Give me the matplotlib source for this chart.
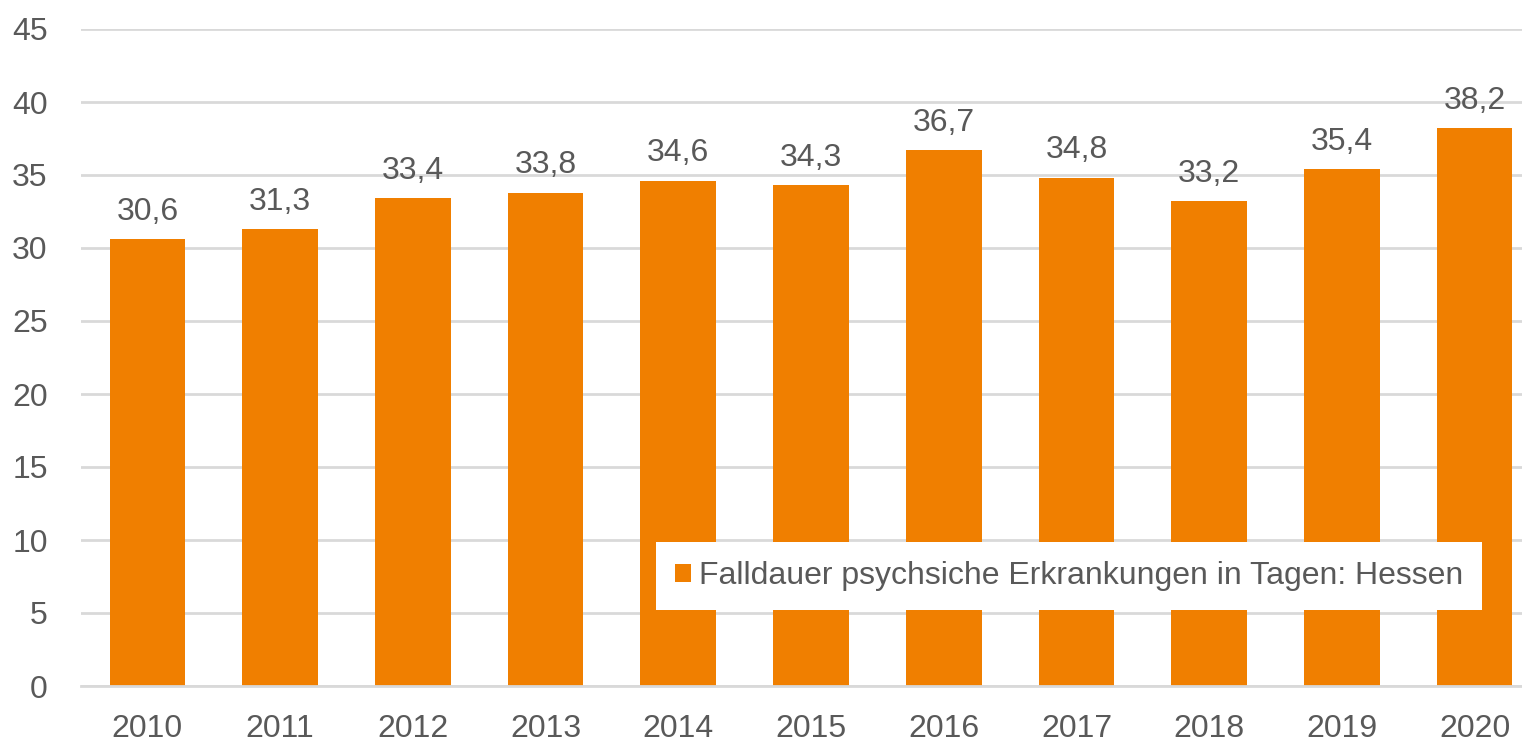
import matplotlib
matplotlib.use("Agg")
import matplotlib.pyplot as plt
from matplotlib import font_manager

years = ["2010", "2011", "2012", "2013", "2014", "2015", "2016", "2017", "2018", "2019", "2020"]
falldauer = [30.6, 31.3, 33.4, 33.8, 34.6, 34.3, 36.7, 34.8, 33.2, 35.4, 38.2]
legend_label = "Falldauer psychsiche Erkrankungen in Tagen: Hessen"

names = {f.name for f in font_manager.fontManager.ttflist}
fam = ["Liberation Sans Narrow", "DejaVu Sans"] if "Liberation Sans Narrow" in names else ["Liberation Sans", "DejaVu Sans"]
plt.rcParams["font.family"] = fam

orange = "#F07F00"
grey_txt = "#595959"
grid_col = "#D9D9D9"
fs = 23

fig = plt.figure(figsize=(15.22, 7.49), dpi=100)
# plot area in pixels: left 81, right ~1541 (cut off), y0 at 686, y45 at 29
ax = fig.add_axes([81 / 1522, (749 - 686) / 749, (1541 - 81) / 1522, (686 - 29) / 749])

x = range(len(years))
bars = ax.bar(x, falldauer, width=0.57, color=orange, label=legend_label, zorder=3)

for xi, v in zip(x, falldauer):
    ax.annotate(f"{v:.1f}".replace(".", ","), (xi, v), xytext=(0, 9), textcoords="offset points",
                ha="center", va="bottom", fontsize=fs, color=grey_txt)

ax.set_xlim(-0.5, len(years) - 0.5)
ax.set_ylim(0, 45)
ax.set_yticks(range(0, 46, 5))
ax.set_xticks(list(x))
ax.set_xticklabels(years)
ax.tick_params(axis="both", length=0, labelsize=fs, labelcolor=grey_txt)
ax.tick_params(axis="x", pad=20)
ax.tick_params(axis="y", pad=24)
for s in ["top", "right", "left"]:
    ax.spines[s].set_visible(False)
ax.spines["bottom"].set_color(grid_col)
ax.spines["bottom"].set_linewidth(2)
ax.spines["bottom"].set_zorder(4)
ax.yaxis.grid(True, color=grid_col, linewidth=2, zorder=0)
ax.set_axisbelow(True)

leg = ax.legend(loc="center", bbox_to_anchor=((649 + 1489) / 2 / 1522, 1 - 576 / 749),
                bbox_transform=fig.transFigure, fontsize=fs, frameon=True, fancybox=False,
                framealpha=1, facecolor="white", edgecolor="none", handlelength=0.5,
                handleheight=0.5, handletextpad=0.25, borderpad=0.6, borderaxespad=0)
for t in leg.get_texts():
    t.set_color(grey_txt)
leg.set_zorder(5)

fig.savefig("out.png", dpi=100)
